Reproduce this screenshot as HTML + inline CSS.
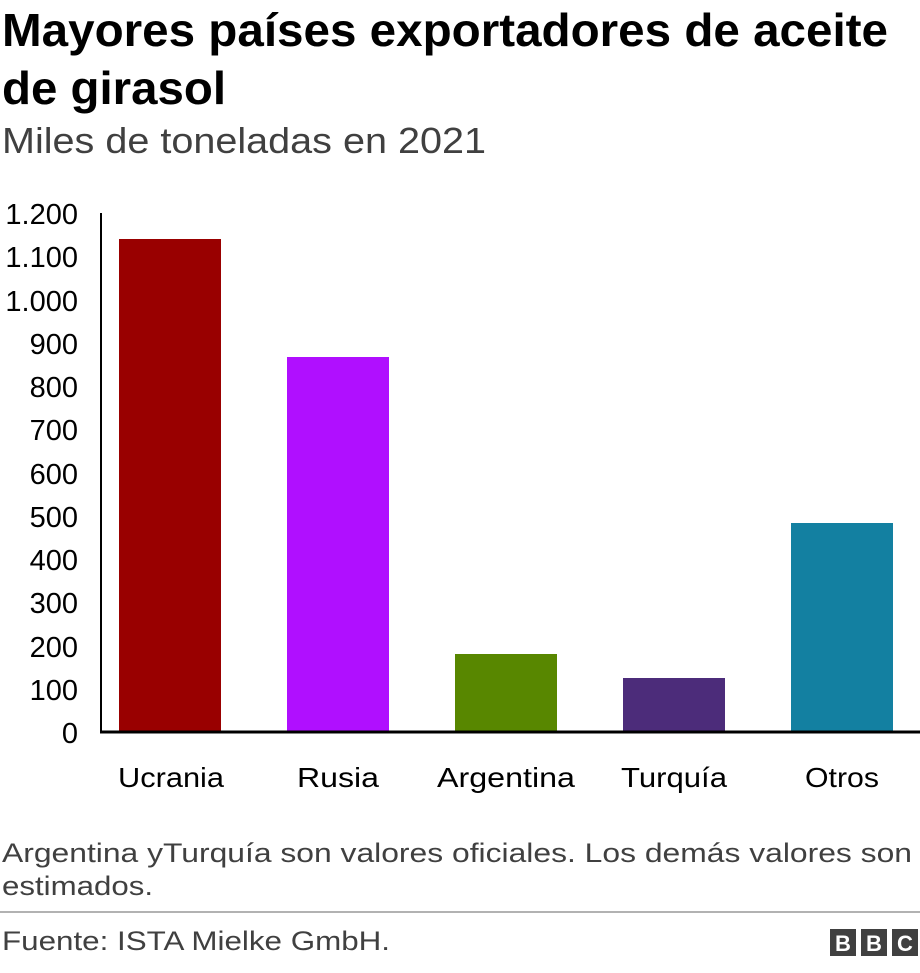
<!DOCTYPE html>
<html><head><meta charset="utf-8"><style>
body{margin:0;background:#fff;width:920px;height:968px;overflow:hidden;font-family:"Liberation Sans",Arial,sans-serif;}
</style></head><body>
<svg width="920" height="968" xmlns="http://www.w3.org/2000/svg" font-family="Liberation Sans, Arial, sans-serif">
<text x="2" y="46" font-size="46" font-weight="bold" fill="#000" textLength="886" lengthAdjust="spacingAndGlyphs">Mayores países exportadores de aceite</text>
<text x="2" y="104" font-size="46" font-weight="bold" fill="#000" textLength="224" lengthAdjust="spacingAndGlyphs">de girasol</text>
<text x="2" y="153" font-size="36" fill="#404040" textLength="484" lengthAdjust="spacingAndGlyphs">Miles de toneladas en 2021</text>
<g font-size="29" fill="#000" text-anchor="end">
<text x="78" y="743">0</text>
<text x="78" y="700">100</text>
<text x="78" y="657">200</text>
<text x="78" y="613">300</text>
<text x="78" y="570">400</text>
<text x="78" y="527">500</text>
<text x="78" y="484">600</text>
<text x="78" y="440">700</text>
<text x="78" y="397">800</text>
<text x="78" y="354">900</text>
<text x="78" y="311">1.000</text>
<text x="78" y="267">1.100</text>
<text x="78" y="224">1.200</text>
</g>
<line x1="101" y1="213" x2="101" y2="732" stroke="#000" stroke-width="2"/>
<rect x="119" y="239" width="102" height="493" fill="#990000"/>
<rect x="287" y="357" width="102" height="375" fill="#b00fff"/>
<rect x="455" y="654" width="102" height="78" fill="#588700"/>
<rect x="623" y="678" width="102" height="54" fill="#4c2c7a"/>
<rect x="791" y="523" width="102" height="209" fill="#1380a1"/>
<line x1="100" y1="732" x2="920" y2="732" stroke="#000" stroke-width="3"/>
<g font-size="28" fill="#000">
<text x="118" y="787" textLength="106" lengthAdjust="spacingAndGlyphs">Ucrania</text>
<text x="297" y="787" textLength="82" lengthAdjust="spacingAndGlyphs">Rusia</text>
<text x="437" y="787" textLength="138" lengthAdjust="spacingAndGlyphs">Argentina</text>
<text x="621" y="787" textLength="106" lengthAdjust="spacingAndGlyphs">Turquía</text>
<text x="805" y="787" textLength="74" lengthAdjust="spacingAndGlyphs">Otros</text>
</g>
<text x="2" y="862" font-size="27" fill="#404040" textLength="910" lengthAdjust="spacingAndGlyphs">Argentina yTurquía son valores oficiales. Los demás valores son</text>
<text x="2" y="895" font-size="27" fill="#404040" textLength="151" lengthAdjust="spacingAndGlyphs">estimados.</text>
<line x1="0" y1="912" x2="920" y2="912" stroke="#999" stroke-width="1.5"/>
<text x="2" y="950" font-size="27" fill="#404040" textLength="388" lengthAdjust="spacingAndGlyphs">Fuente: ISTA Mielke GmbH.</text>
<g font-size="22" font-weight="bold" text-anchor="middle">
<rect x="830" y="929" width="26" height="27" fill="#404040"/>
<rect x="861" y="929" width="26" height="27" fill="#404040"/>
<rect x="892" y="929" width="26" height="27" fill="#404040"/>
<text x="843" y="951" fill="#fff">B</text>
<text x="874" y="951" fill="#fff">B</text>
<text x="905" y="951" fill="#fff">C</text>
</g>
</svg>
</body></html>
